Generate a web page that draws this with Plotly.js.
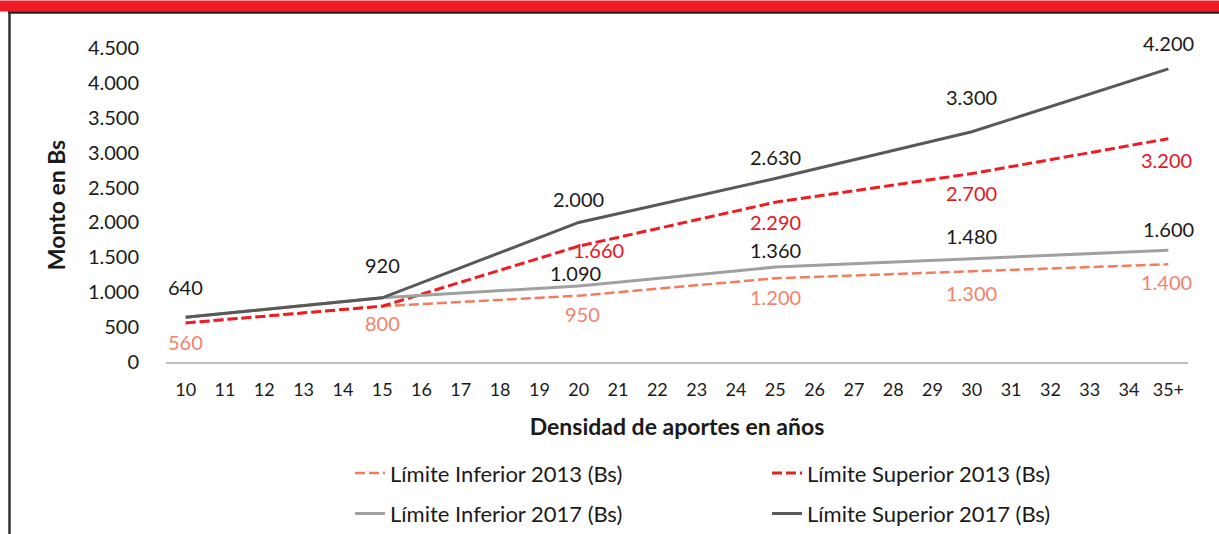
<!DOCTYPE html>
<html>
<head>
<meta charset="utf-8">
<script src="https://cdn.plot.ly/plotly-3.0.1.min.js"></script>
<style>
html,body{margin:0;padding:0;background:#fff;overflow:hidden;}
#chart{position:fixed;left:0;top:0;}
</style>
</head>
<body>
<div id="chart"></div>
<script>
// ---- data ----
const tickLabels = ['10','11','12','13','14','15','16','17','18','19','20','21','22','23','24','25','26','27','28','29','30','31','32','33','34','35+'];
const years = ['10','15','20','25','30','35+'];
const inferior2013 = [560, 800, 950, 1200, 1300, 1400];
const superior2013 = [560, 800, 1660, 2290, 2700, 3200];
const inferior2017 = [640, 920, 1090, 1360, 1480, 1600];
const superior2017 = [640, 920, 2000, 2630, 3300, 4200];
const seriesNames = ['Límite Inferior 2013 (Bs)', 'Límite Superior 2013 (Bs)', 'Límite Inferior 2017 (Bs)', 'Límite Superior 2017 (Bs)'];
// which points carry a value label (shared start values are labelled once)
const showInf2013 = [true, true, true, true, true, true];
const showSup2013 = [false, false, true, true, true, true];
const showInf2017 = [false, false, true, true, true, true];
const showSup2017 = [true, true, true, true, true, true];

// ---- label placement (pixels) ----
const shiftInf2013 = [-19, -16, -18, -18, -21, -17];
const shiftSup2013 = [0, 0, -4, -19, -19, -21];
const shiftInf2017 = [0, 0, 13, 17, 22, 21];
const shiftSup2017 = [30, 32, 23, 21, 34, 25];
const xshiftSup2013 = [0, 0, 20, 0, 0, -2];
const xshiftInf2013 = [0, 0, 4, 0, 0, -2];
const xshiftInf2017 = [0, 0, -3, 0, 0, 0];

const FONT = 'Lato, "Open Sans", sans-serif';
const cInf13 = '#f47c5c', cSup13 = '#ee1c25', cInf17 = '#a0a0a0', cSup17 = '#595959';
const lblInf13 = '#f4826b', lblSup13 = '#e8141e', lblBlack = '#1a1a1a';

// page geometry: capture appears to be taller than the window, so scale vertically
const W = 1219, H0 = 534, H = 546, k = H / H0;
document.getElementById('chart').style.width = W + 'px';
document.getElementById('chart').style.height = H + 'px';

function fmt(v){ return String(v).replace(/\B(?=(\d{3})+(?!\d))/g, '.'); }

const traces = [
  {x: years, y: inferior2013, name: seriesNames[0], type: 'scatter', mode: 'lines',
   line: {color: cInf13, width: 2.5, dash: '10px,4px'}, legend: 'legend'},
  {x: years, y: superior2013, name: seriesNames[1], type: 'scatter', mode: 'lines',
   line: {color: cSup13, width: 3, dash: '10px,4px'}, legend: 'legend'},
  {x: years, y: inferior2017, name: seriesNames[2], type: 'scatter', mode: 'lines',
   line: {color: cInf17, width: 3}, legend: 'legend2'},
  {x: years, y: superior2017, name: seriesNames[3], type: 'scatter', mode: 'lines',
   line: {color: cSup17, width: 3}, legend: 'legend2'}
];

const annotations = [];
function addLabels(vals, show, shifts, xshifts, color){
  vals.forEach((v, i) => {
    if (!show[i]) return;
    annotations.push({x: tickLabels.indexOf(years[i]), y: v, xref: 'x', yref: 'y', text: fmt(v), showarrow: false,
      yshift: shifts[i] * k, xshift: xshifts ? xshifts[i] : 0, borderpad: 0,
      font: {family: FONT, size: 20, color: color}});
  });
}
addLabels(inferior2013, showInf2013, shiftInf2013, xshiftInf2013, lblInf13);
addLabels(superior2013, showSup2013, shiftSup2013, xshiftSup2013, lblSup13);
addLabels(inferior2017, showInf2017, shiftInf2017, xshiftInf2017, lblBlack);
addLabels(superior2017, showSup2017, shiftSup2017, null, lblBlack);

// frame in reference pixels
const L = 166, R = 1188, T = 47, B = 357;
const px = v => (v - L) / (R - L);
const py = v => (B - v) / (B - T);

const layout = {
  width: W, height: H, autosize: false,
  margin: {l: L, r: W - R, t: T * k, b: (H0 - B) * k},
  paper_bgcolor: '#ffffff', plot_bgcolor: '#ffffff',
  separators: ',.',
  font: {family: FONT, size: 18, color: '#1a1a1a'},
  showlegend: true,
  xaxis: {type: 'category', categoryorder: 'array', categoryarray: tickLabels,
    tickvals: tickLabels, ticktext: tickLabels, range: [-0.5, 25.5],
    showgrid: false, zeroline: false, showline: true, linecolor: '#bfbfbf', linewidth: 2,
    ticks: '', ticklabelstandoff: 10, tickfont: {family: FONT, size: 18, color: '#1a1a1a'},
    title: {text: '<b>Densidad de aportes en años</b>', font: {family: FONT, size: 23, color: '#1a1a1a'}, standoff: 20}},
  yaxis: {range: [0, 4500], dtick: 500, tick0: 0, tickformat: ',d',
    showgrid: false, zeroline: false, showline: false, ticks: '', ticklabelstandoff: 26,
    tickfont: {family: FONT, size: 20, color: '#1a1a1a'},
    title: {text: '<b>Monto en Bs</b>', font: {family: FONT, size: 23, color: '#1a1a1a'}, standoff: 15}},
  legend: {orientation: 'h', x: px(350), xanchor: 'left', y: py(446), yanchor: 'top',
    entrywidth: 372, entrywidthmode: 'pixels', font: {family: FONT, size: 22, color: '#1a1a1a'},
    bgcolor: 'rgba(0,0,0,0)', traceorder: 'normal'},
  legend2: {orientation: 'h', x: px(350), xanchor: 'left', y: py(486), yanchor: 'top',
    entrywidth: 372, entrywidthmode: 'pixels', font: {family: FONT, size: 22, color: '#1a1a1a'},
    bgcolor: 'rgba(0,0,0,0)', traceorder: 'normal'},
  annotations: annotations,
  shapes: [
    {type: 'rect', xref: 'paper', yref: 'paper', x0: px(0), x1: px(W), y0: py(0), y1: py(11),
     fillcolor: '#ee1c24', line: {width: 0}, layer: 'above'},
    {type: 'line', xref: 'paper', yref: 'paper', x0: px(8), x1: px(W), y0: py(12), y1: py(12),
     line: {color: '#222222', width: 2.5}},
    {type: 'line', xref: 'paper', yref: 'paper', x0: px(9.5), x1: px(9.5), y0: py(11), y1: py(H0),
     line: {color: '#333333', width: 2.5}}
  ]
};

Plotly.newPlot('chart', traces, layout, {displayModeBar: false, staticPlot: true});
</script>
</body>
</html>
